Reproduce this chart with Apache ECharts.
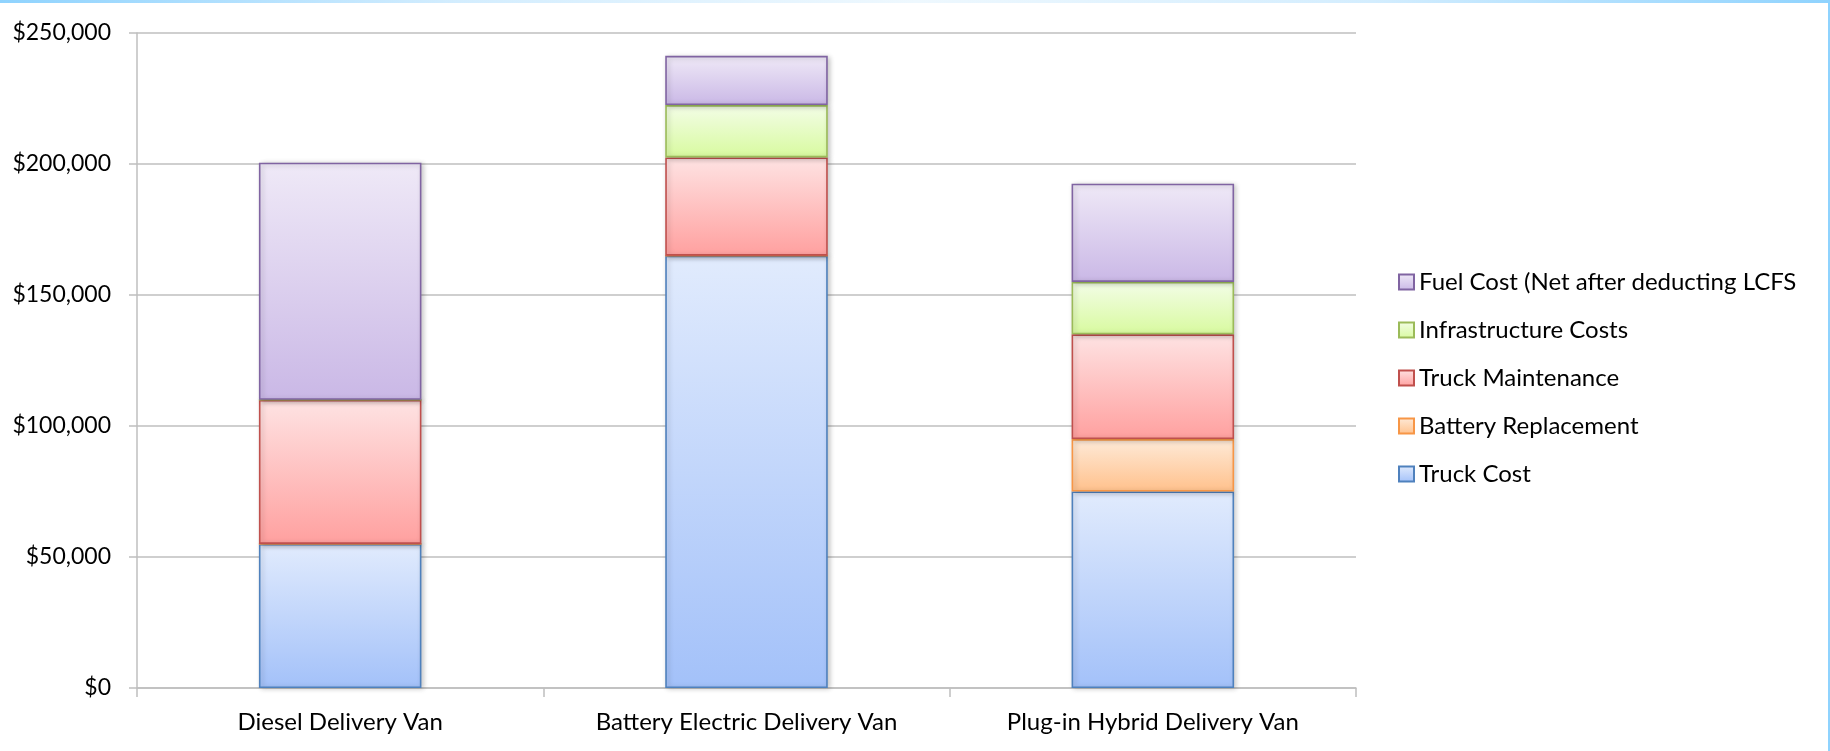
<!DOCTYPE html>
<html>
<head>
<meta charset="utf-8">
<script src="https://cdn.jsdelivr.net/npm/echarts@6/dist/echarts.min.js"></script>
<style>
html,body{margin:0;padding:0;background:#fff;}
#c{width:1830px;height:751px;}
</style>
</head>
<body>
<div id="c"></div>
<script>
const categories = ['Diesel Delivery Van', 'Battery Electric Delivery Van', 'Plug-in Hybrid Delivery Van'];
const truckCost = [55000, 165000, 75000];
const batteryReplacement = [0, 0, 20000];
const truckMaintenance = [55000, 37500, 40000];
const infrastructureCosts = [0, 20000, 20000];
const fuelCost = [90500, 18800, 37500];
const yTicks = [0, 50000, 100000, 150000, 200000, 250000];

const FONT = 'Lato';

function grad(top, bottom) {
  return { type: 'linear', x: 0, y: 0, x2: 0, y2: 1,
    colorStops: [{ offset: 0, color: top }, { offset: 1, color: bottom }] };
}
function mkSeries(name, data, top, bottom, border) {
  return {
    name: name, type: 'bar', stack: 'total', data: data, barWidth: '40%',
    itemStyle: { color: grad(top, bottom), borderColor: border, borderWidth: 1.6,
      shadowBlur: 5, shadowColor: 'rgba(0,0,0,0.22)', shadowOffsetX: 2, shadowOffsetY: 1 },
    emphasis: { disabled: true }
  };
}
const series = [
  mkSeries('Truck Cost', truckCost, '#e1ebfd', '#a3c1f9', '#4f81bd'),
  mkSeries('Battery Replacement', batteryReplacement, '#feead8', '#ffc18c', '#f79646'),
  mkSeries('Truck Maintenance', truckMaintenance, '#fee3e3', '#ffa09f', '#c0504d'),
  mkSeries('Infrastructure Costs', infrastructureCosts, '#f3fde7', '#d8fa9f', '#9bbb59'),
  mkSeries('Fuel Cost (Net after deducting LCFS', fuelCost, '#efe9f7', '#cab8e6', '#8064a2')
];

const chart = echarts.init(document.getElementById('c'), null, { renderer: 'canvas' });
chart.setOption({
  animation: false,
  backgroundColor: '#ffffff',
  grid: { left: 137, right: 474, top: 33, bottom: 63, containLabel: false },
  legend: {
    orient: 'vertical', left: 1398, top: 270, padding: 0,
    itemWidth: 15, itemHeight: 15, itemGap: 24,
    icon: 'rect',
    data: series.map(s => s.name).reverse(),
    itemStyle: { shadowBlur: 0, shadowOffsetX: 0, shadowOffsetY: 0, borderWidth: 2 },
    textStyle: { fontFamily: FONT, fontSize: 24, color: '#000', lineHeight: 24 }
  },
  xAxis: {
    type: 'category', data: categories,
    axisLine: { lineStyle: { color: '#bfbfbf', width: 1.5 } },
    axisTick: { show: true, length: 9, lineStyle: { color: '#bfbfbf', width: 1.5 } },
    axisLabel: { fontFamily: FONT, fontSize: 24, color: '#000', margin: 22 }
  },
  yAxis: {
    type: 'value', min: 0, max: 250000, interval: 50000,
    axisLine: { show: true, lineStyle: { color: '#bfbfbf', width: 1.5 } },
    axisTick: { show: true, length: 8, lineStyle: { color: '#bfbfbf', width: 1.5 } },
    splitLine: { show: true, lineStyle: { color: '#bfbfbf', width: 1.5 } },
    axisLabel: { fontFamily: FONT, fontSize: 23, color: '#000', margin: 26,
      formatter: v => '$' + v.toString().replace(/\B(?=(\d{3})+(?!\d))/g, ',') }
  },
  graphic: [
    { type: 'rect', left: 0, top: 0, shape: { width: 1830, height: 3 }, z: 100,
      style: { fill: { type: 'linear', x: 0, y: 0, x2: 1, y2: 0,
        colorStops: [{ offset: 0, color: '#8fd3fe' }, { offset: 0.25, color: '#d3edfe' },
                     { offset: 0.5, color: '#eef8fe' }, { offset: 0.75, color: '#d3edfe' },
                     { offset: 1, color: '#8fd3fe' }] } } },
    { type: 'rect', right: 0, top: 0, shape: { width: 2, height: 751 }, z: 100,
      style: { fill: '#8fd3fe' } }
  ],
  series: series
});
</script>
</body>
</html>
